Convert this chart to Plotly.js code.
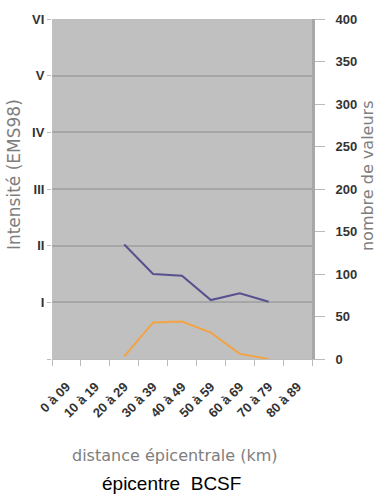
<!DOCTYPE html>
<html>
<head>
<meta charset="utf-8">
<script src="https://cdn.plot.ly/plotly-3.0.1.min.js"></script>
<style>html,body{margin:0;padding:0;background:#fff;}#chart{width:382px;height:495px;}</style>
</head>
<body>
<div id="chart"></div>
<script>
const categories = ["0 à 09","10 à 19","20 à 29","30 à 39","40 à 49","50 à 59","60 à 69","70 à 79","80 à 89"];
const intensite = [null, null, 2.02, 1.5, 1.47, 1.04, 1.16, 1.01, null];
const nombreValeurs = [null, null, 3, 43, 44, 31, 6, 0, null];
const intensiteTickVals = [0, 1, 2, 3, 4, 5, 6];
const intensiteTickText = ["", "I", "II", "III", "IV", "V", "VI"];

const titleFamily = "DejaVu Sans, sans-serif";
const tickFont = {size: 13, color: "#333", family: "Liberation Sans, Arial, sans-serif", weight: "bold"};

const traces = [
  {x: categories, y: intensite, type: "scatter", mode: "lines", yaxis: "y",
   line: {color: "#57518f", width: 2}, connectgaps: false, hoverinfo: "skip"},
  {x: categories, y: nombreValeurs, type: "scatter", mode: "lines", yaxis: "y2",
   line: {color: "#f2a444", width: 2}, connectgaps: false, hoverinfo: "skip"}
];

const layout = {
  width: 382, height: 495,
  margin: {l: 52, r: 70, t: 19, b: 136},
  paper_bgcolor: "#ffffff",
  plot_bgcolor: "#c0c0c0",
  showlegend: false,
  font: {family: "Liberation Sans, Arial, sans-serif", color: "#333"},
  xaxis: {
    type: "category", categoryorder: "array", categoryarray: categories,
    range: [-0.5, 8.5],
    tickson: "boundaries", ticks: "outside", ticklen: 6, tickcolor: "#bbb",
    tickangle: -45, tickfont: tickFont, ticklabelstandoff: 14,
    showgrid: false, showline: true, linecolor: "#bbb", linewidth: 1
  },
  yaxis: {
    range: [0, 6], tickvals: intensiteTickVals, ticktext: intensiteTickText,
    ticks: "outside", ticklen: 4, tickcolor: "#bbb",
    tickfont: tickFont,
    showgrid: true, gridcolor: "#a6a6a6", gridwidth: 2,
    zeroline: false, showline: false
  },
  yaxis2: {
    range: [0, 400], dtick: 50, overlaying: "y", side: "right",
    ticks: "outside", ticklen: 10, tickcolor: "#bbb",
    tickfont: tickFont, ticklabelstandoff: 8,
    showgrid: false, zeroline: false, showline: true, linecolor: "#a8a8a8", linewidth: 3
  },
  annotations: [
    {text: "Intensité (EMS98)", xref: "paper", yref: "paper", x: -0.146, y: 0.541,
     xanchor: "center", yanchor: "middle", textangle: -90, showarrow: false,
     font: {size: 17, color: "#7e7e7e", family: titleFamily}},
    {text: "nombre de valeurs", xref: "paper", yref: "paper", x: 1.2115, y: 0.541,
     xanchor: "center", yanchor: "middle", textangle: -90, showarrow: false,
     font: {size: 16, color: "#7e7e7e", family: titleFamily}},
    {text: "distance épicentrale (km)", xref: "paper", yref: "paper", x: 0.471, y: -0.285,
     xanchor: "center", yanchor: "middle", showarrow: false,
     font: {size: 16, color: "#7e7e7e", family: titleFamily}},
    {text: "épicentre  BCSF", xref: "paper", yref: "paper", x: 0.458, y: -0.365,
     xanchor: "center", yanchor: "middle", showarrow: false,
     font: {size: 19, color: "#000", family: "Liberation Sans, Arial, sans-serif"}}
  ]
};

Plotly.newPlot("chart", traces, layout, {displayModeBar: false, staticPlot: true});
</script>
</body>
</html>
